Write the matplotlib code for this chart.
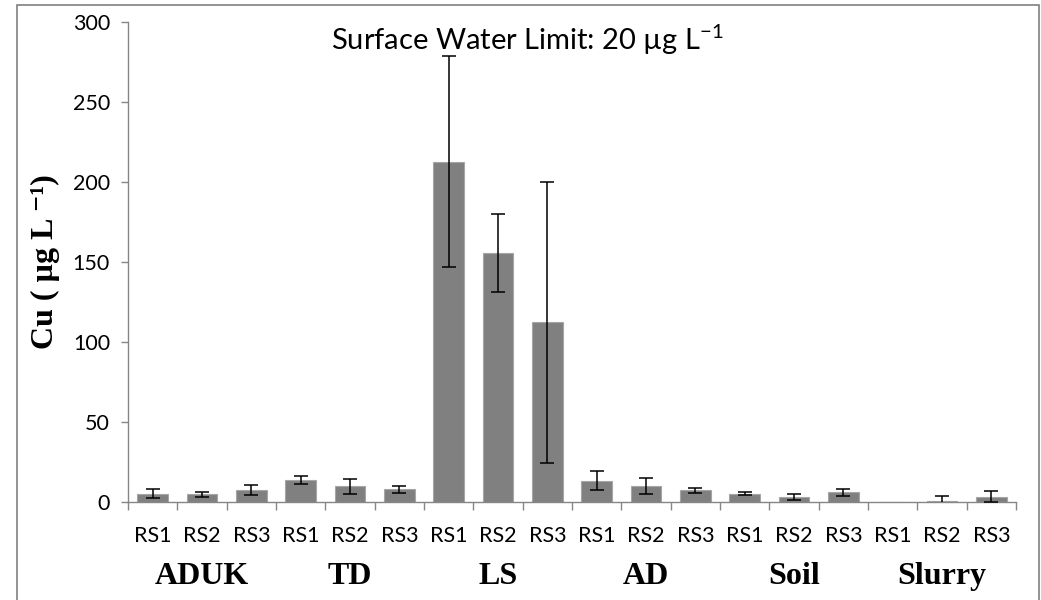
import matplotlib.pyplot as plt
from matplotlib.patches import Rectangle
import numpy as np

# Cu concentration per sampling round, grouped by source
groups = ['ADUK', 'TD', 'LS', 'AD', 'Soil', 'Slurry']
rounds = ['RS1', 'RS2', 'RS3']
cu_mean = [5.3, 4.8, 7.5,
           13.8, 9.8, 8.0,
           212.7, 155.8, 112.3,
           13.4, 10.2, 7.3,
           5.2, 3.3, 6.1,
           0.0, 0.8, 3.3]
cu_err = [2.7, 1.7, 3.1,
          2.5, 4.5, 2.2,
          66.0, 24.5, 88.0,
          5.7, 5.1, 1.6,
          1.1, 1.8, 2.3,
          0.0, 3.0, 3.5]

axis_grey = '#868686'
calibri_like = 'Lato'
times_like = ['Liberation Serif', 'DejaVu Serif']

fig = plt.figure(figsize=(10.41, 6.0), dpi=100)
ax = fig.add_axes([0.123, 0.1633, 0.853, 0.80])

x = np.arange(len(cu_mean))
mean = np.array(cu_mean)
err = np.array(cu_err)
ax.bar(x, mean, width=0.62, color='#808080', edgecolor='#a6a6a6', linewidth=0.8, zorder=2)
has_err = err > 0
ax.errorbar(x[has_err], mean[has_err], yerr=err[has_err], fmt='none', ecolor='black',
            elinewidth=1.1, capsize=5, capthick=1.1, zorder=3)

ax.set_xlim(-0.5, len(cu_mean) - 0.5)
ax.set_ylim(0, 300)
ax.set_yticks(range(0, 301, 50))
ax.tick_params(axis='y', direction='out', length=5, color=axis_grey, width=1,
               labelsize=15.5, pad=8)
for lbl in ax.get_yticklabels():
    lbl.set_fontfamily(calibri_like)

# boundary ticks between bars, labels centred under each bar
ax.set_xticks(np.arange(-0.5, len(cu_mean), 1.0))
ax.set_xticklabels([])
ax.tick_params(axis='x', direction='out', length=6, color=axis_grey, width=1)
ax.set_xticks(x, minor=True)
ax.set_xticklabels(rounds * len(groups), minor=True, fontsize=15.5, family=calibri_like)
ax.tick_params(axis='x', which='minor', length=0, pad=17)

for side in ['top', 'right']:
    ax.spines[side].set_visible(False)
for side in ['left', 'bottom']:
    ax.spines[side].set_color(axis_grey)
    ax.spines[side].set_linewidth(1)

# group names below the round labels
for i, g in enumerate(groups):
    ax.text(3 * i + 1, -0.156, g, transform=ax.get_xaxis_transform(), ha='center',
            va='center', fontsize=23, fontweight='bold', family=times_like)

ax.set_ylabel('Cu ( µg L ⁻¹)', fontsize=23, fontweight='bold',
              family=times_like, labelpad=9)

ax.text(0.45, 0.963, 'Surface Water Limit: 20 µg L$^{\\mathregular{-1}}$', transform=ax.transAxes,
        ha='center', va='center', fontsize=21, family=calibri_like)

fig.patches.append(Rectangle((17 / 1041, -0.05), 1022 / 1041, 1.05 - 5 / 600,
                             transform=fig.transFigure, fill=False,
                             edgecolor='#808080', linewidth=1.2))

fig.savefig('out.png', dpi=100)
